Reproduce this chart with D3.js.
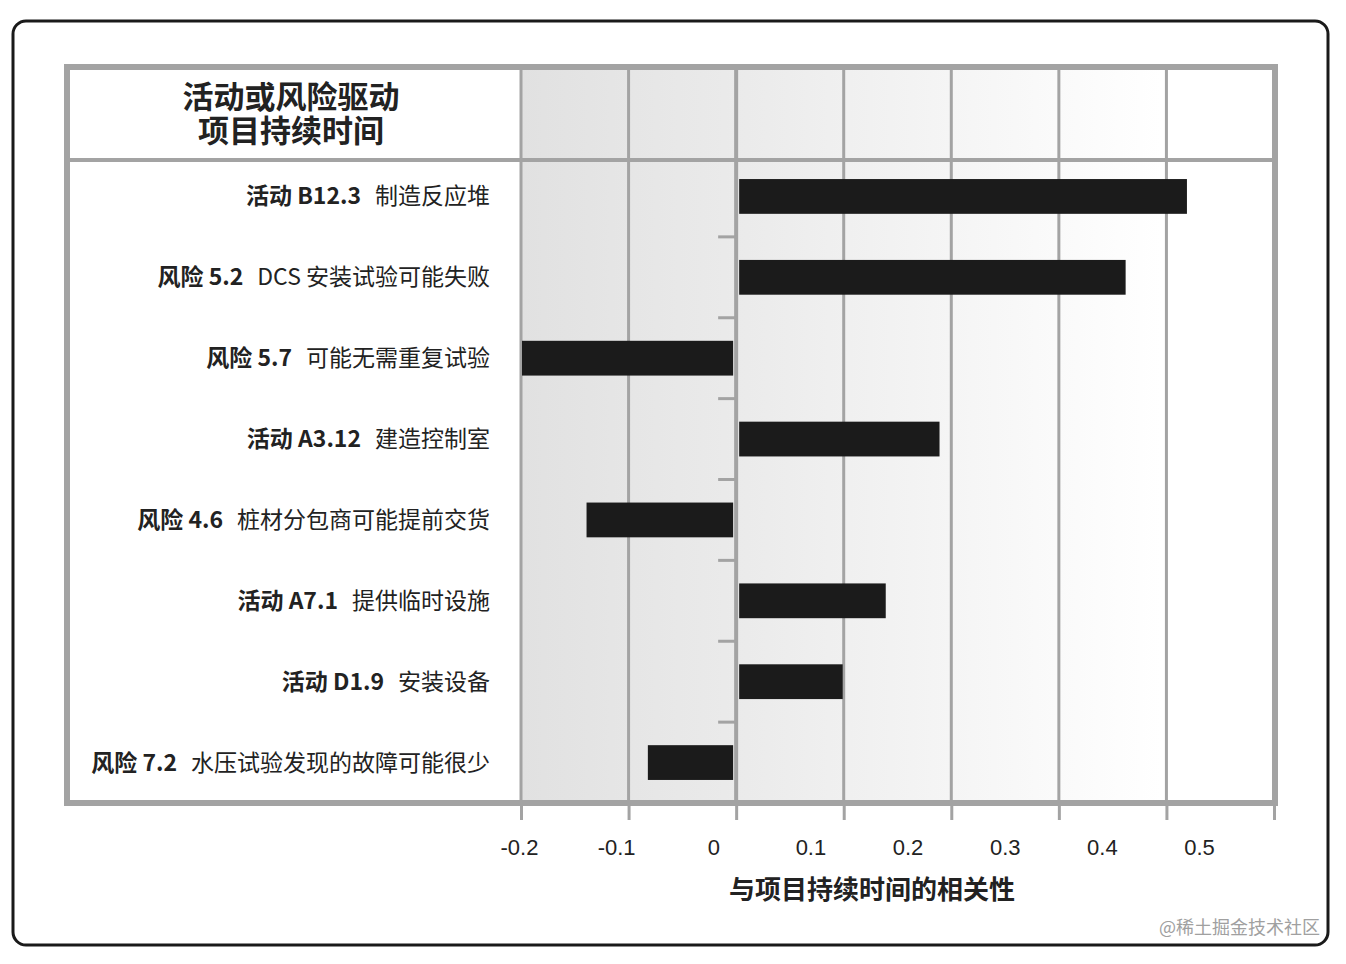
<!DOCTYPE html>
<html><head><meta charset="utf-8">
<script src="https://cdn.jsdelivr.net/npm/d3@7"></script>
<style>body{margin:0;background:#fff}svg{display:block}</style>
</head><body>
<svg id="chart" width="1346" height="964"></svg>
<script>
const prefixes = ["活动 B12.3","风险 5.2","风险 5.7","活动 A3.12","风险 4.6","活动 A7.1","活动 D1.9","风险 7.2"];
const descriptions = ["制造反应堆","DCS 安装试验可能失败","可能无需重复试验","建造控制室","桩材分包商可能提前交货","提供临时设施","安装设备","水压试验发现的故障可能很少"];
const values = [0.42, 0.363, -0.2, 0.19, -0.14, 0.14, 0.1, -0.083];
const tickValues = [-0.2,-0.1,0,0.1,0.2,0.3,0.4,0.5];
const tickLabels = ["-0.2","-0.1","0","0.1","0.2","0.3","0.4","0.5"];
const titleLines = ["活动或风险驱动","项目持续时间"];
const axisTitle = "与项目持续时间的相关性";
const watermark = "@稀土掘金技术社区";

const svg = d3.select("#chart");
const FONT = "'Noto Sans CJK SC','Noto Sans',sans-serif";
const GRID = "#a3a3a3";

const frame = {l:67, t:67, r:1275, b:803};
const headerY = 160;
const x = d3.scaleLinear().domain([-0.2,0.5]).range([521,1274]);
const xLabel = d3.scaleLinear().domain([-0.2,0.5]).range([519,1199]);
const idx = d3.range(prefixes.length);
const y = d3.scaleBand().domain(idx).range([156,803]).paddingInner(0.57).paddingOuter(0.285);
const band = y.step();

// outer rounded box
svg.append("rect").attr("x",13).attr("y",21).attr("width",1315).attr("height",924)
  .attr("rx",13).attr("fill","#fff").attr("stroke","#1a1a1a").attr("stroke-width",3);

// gradient background for plot columns
const defs = svg.append("defs");
const g = defs.append("linearGradient").attr("id","bg").attr("x1","0").attr("x2","1").attr("y1","0").attr("y2","0");
g.append("stop").attr("offset","0").attr("stop-color","#e1e1e1");
g.append("stop").attr("offset","0.3").attr("stop-color","#ebebeb");
g.append("stop").attr("offset","0.6").attr("stop-color","#f6f6f6");
g.append("stop").attr("offset","0.85").attr("stop-color","#ffffff");
g.append("stop").attr("offset","1").attr("stop-color","#ffffff");
svg.append("rect").attr("x",x(-0.2)).attr("y",frame.t).attr("width",x(0.5)-x(-0.2)).attr("height",frame.b-frame.t)
  .attr("fill","url(#bg)");

// gridlines (through header)
svg.append("g").selectAll("line").data(tickValues).join("line")
  .attr("x1",d=>x(d)).attr("x2",d=>x(d)).attr("y1",frame.t).attr("y2",frame.b)
  .attr("stroke",GRID).attr("stroke-width",d=>d===0?4:3);

// header divider
svg.append("line").attr("x1",frame.l).attr("x2",frame.r).attr("y1",headerY).attr("y2",headerY)
  .attr("stroke",GRID).attr("stroke-width",4);

// row boundary ticks left of zero
svg.append("g").selectAll("line").data(idx.slice(1)).join("line")
  .attr("x1",x(0)-18).attr("x2",x(0)).attr("y1",d=>y(d)-(band-y.bandwidth())/2).attr("y2",d=>y(d)-(band-y.bandwidth())/2)
  .attr("stroke",GRID).attr("stroke-width",3);

// bars
svg.append("g").selectAll("rect").data(values).join("rect")
  .attr("x",d=>d>=0?x(0)+3:x(d)+1)
  .attr("width",d=>Math.abs(x(d)-x(0))-4)
  .attr("y",(d,i)=>y(i)).attr("height",y.bandwidth())
  .attr("fill","#1b1b1b");

// frame
svg.append("rect").attr("x",frame.l).attr("y",frame.t).attr("width",frame.r-frame.l).attr("height",frame.b-frame.t)
  .attr("fill","none").attr("stroke",GRID).attr("stroke-width",6);

// bottom ticks
const axTicks = svg.append("g").attr("transform",`translate(0,${frame.b})`)
  .call(d3.axisBottom(x).tickValues(tickValues).tickSize(17).tickFormat(""));
axTicks.select(".domain").remove();
axTicks.selectAll(".tick line").attr("stroke",GRID).attr("stroke-width",3);

// tick labels
const axLabels = svg.append("g").attr("transform",`translate(0,${frame.b})`)
  .call(d3.axisBottom(xLabel).tickValues(tickValues).tickSize(0).tickPadding(36).tickFormat((d,i)=>tickLabels[i]));
axLabels.select(".domain").remove();
axLabels.selectAll(".tick text").attr("font-family","'Liberation Sans',Arial,sans-serif").attr("font-size",22).attr("fill","#222");

// category labels
const lab = svg.append("g").selectAll("text").data(idx).join("text")
  .attr("x",490).attr("y",i=>y(i)+y.bandwidth()/2).attr("dy","0.35em")
  .attr("text-anchor","end").attr("font-family",FONT).attr("font-size",23).attr("fill","#222");
lab.append("tspan").attr("font-weight","bold").text(i=>prefixes[i]);
lab.append("tspan").attr("dx",14).attr("font-weight","normal").text(i=>descriptions[i]);

// header title (single text, two lines)
const title = svg.append("text").attr("text-anchor","middle")
  .attr("font-family",FONT).attr("font-weight","bold").attr("font-size",31).attr("fill","#222");
title.selectAll("tspan").data(titleLines).join("tspan")
  .attr("x",291).attr("y",(d,i)=>97+i*34).attr("dy","0.35em").text(d=>d);

// axis title
svg.append("text").attr("x",872).attr("y",890).attr("dy","0.35em").attr("text-anchor","middle")
  .attr("font-family",FONT).attr("font-weight","bold").attr("font-size",26).attr("fill","#222").text(axisTitle);

// watermark
svg.append("text").attr("x",1320).attr("y",928).attr("dy","0.35em").attr("text-anchor","end")
  .attr("font-family",FONT).attr("font-size",18).attr("fill","#a0a0a0").text(watermark);
</script>
</body></html>
